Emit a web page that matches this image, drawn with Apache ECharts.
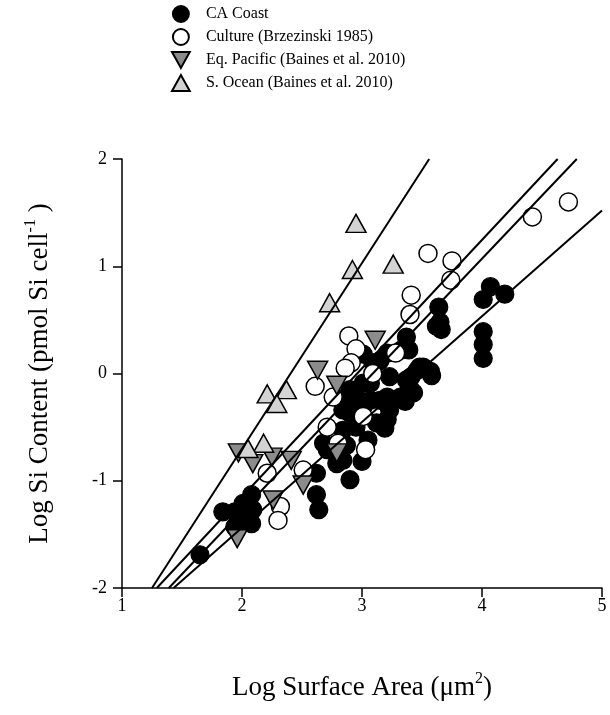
<!DOCTYPE html>
<html>
<head>
<meta charset="utf-8">
<script src="https://cdn.jsdelivr.net/npm/echarts@6/dist/echarts.min.js"></script>
<style>
  html, body { margin: 0; padding: 0; background: #ffffff; }
  #chart { width: 610px; height: 715px; }
</style>
</head>
<body>
<div id="chart"></div>
<script>
// Log surface area (um^2) vs. log Si content (pmol Si per cell)
const seriesNames = ['CA Coast', 'Culture (Brzezinski 1985)', 'Eq. Pacific (Baines et al. 2010)', 'S. Ocean (Baines et al. 2010)'];

const caCoast = [
  [1.65, -1.69], [1.84, -1.29], [1.94, -1.29], [1.94, -1.43], [1.98, -1.37], [2.01, -1.21],
  [2.08, -1.13], [2.09, -1.27], [2.08, -1.40],
  [2.62, -0.93], [2.62, -1.13], [2.64, -1.27], [2.68, -0.65], [2.73, -0.68], [2.71, -0.71],
  [2.79, -0.68], [2.79, -0.84], [2.84, -0.81], [2.84, -0.53], [2.84, -0.34], [2.87, -0.25],
  [2.87, -0.67], [2.90, -0.37], [2.90, -0.99], [2.90, -0.15], [2.95, -0.50], [2.98, -0.25],
  [3.00, -0.82], [3.01, -0.31], [3.01, -0.09], [3.01, 0.18], [3.05, -0.62], [3.07, -0.25],
  [3.07, -0.09], [3.09, 0.10], [3.12, -0.46], [3.15, 0.12], [3.15, -0.25], [3.19, -0.51],
  [3.21, -0.22], [3.21, -0.43], [3.21, 0.19], [3.23, -0.34], [3.23, -0.03], [3.32, -0.22],
  [3.33, 0.22], [3.36, -0.26], [3.37, 0.34], [3.37, -0.06], [3.39, 0.22], [3.40, -0.14],
  [3.41, -0.03], [3.43, -0.18], [3.46, 0.03], [3.48, 0.06], [3.51, 0.06], [3.57, 0.02],
  [3.58, -0.02], [3.62, 0.44], [3.64, 0.62], [3.65, 0.48], [3.66, 0.41],
  [4.01, 0.69], [4.07, 0.81], [4.19, 0.74], [4.01, 0.39], [4.01, 0.27], [4.01, 0.14]
];

const culture = [
  [4.07, 2.01], [4.72, 1.60], [4.42, 1.46], [3.55, 1.12], [3.75, 1.05], [3.74, 0.87],
  [3.41, 0.73], [3.40, 0.55], [2.89, 0.35], [2.95, 0.23], [2.91, 0.10], [2.86, 0.05],
  [2.61, -0.12], [2.76, -0.22], [3.28, 0.19], [3.09, 0.00], [3.01, -0.40], [2.71, -0.50],
  [3.03, -0.71], [2.80, -0.65], [2.51, -0.90], [2.32, -1.24], [2.30, -1.37], [2.21, -0.93]
];

const eqPacific = [
  [3.11, 0.31], [2.63, 0.03], [2.79, -0.11], [2.79, -0.74], [2.41, -0.81], [2.51, -1.04],
  [1.97, -0.74], [2.09, -0.84], [2.25, -0.78], [2.26, -1.18], [1.96, -1.54]
];

const sOcean = [
  [2.95, 1.40], [2.92, 0.97], [2.73, 0.66], [3.26, 1.02], [2.21, -0.19], [2.37, -0.15],
  [2.29, -0.28], [2.18, -0.65], [2.05, -0.70]
];

// Regression lines (end points)
const caCoastFit = [[1.43, -2], [5.0, 1.52]];
const cultureFit = [[1.29, -2], [4.63, 2]];
const eqPacificFit = [[1.39, -2], [4.79, 2]];
const sOceanFit = [[1.25, -2], [3.56, 2]];

const xTicks = [1, 5, 1];   // min, max, step
const yTicks = [-2, 2, 1];

const serif = '"Liberation Serif", "Times New Roman", serif';
const downTri = 'path://M0,0 L20,0 L10,18 Z';
const upTri = 'path://M10,0 L20,18 L0,18 Z';

function fitLine(data) {
  return {
    type: 'line', data: data, symbol: 'none', silent: true, z: 10,
    lineStyle: { color: '#000', width: 2 }
  };
}

const titleRich = {
  n: { fontFamily: serif, fontSize: 27, color: '#000', lineHeight: 34 },
  s: { fontFamily: serif, fontSize: 16, color: '#000', lineHeight: 34, verticalAlign: 'top' }
};

const chart = echarts.init(document.getElementById('chart'), null, { renderer: 'canvas' });
chart.setOption({
  backgroundColor: '#ffffff',
  animation: false,
  textStyle: { fontFamily: serif, color: '#000' },
  grid: { left: 122, right: 8, top: 159, bottom: 127, containLabel: false },
  legend: {
    data: seriesNames,
    orient: 'vertical',
    left: 171, top: 5, padding: 0,
    itemWidth: 18, itemHeight: 16, itemGap: 5,
    textStyle: { fontFamily: serif, fontSize: 16, color: '#000', padding: [0, 0, 0, 11] },
    selectedMode: false
  },
  xAxis: {
    type: 'value', min: xTicks[0], max: xTicks[1], interval: xTicks[2],
    name: '{n|Log Surface Area (\u03bcm}{s|2}{n|)}',
    nameLocation: 'middle', nameGap: 83,
    nameTextStyle: { rich: titleRich },
    axisLine: { show: true, onZero: false, lineStyle: { color: '#000', width: 1.5 } },
    axisTick: { show: true, inside: false, length: 9, lineStyle: { color: '#000', width: 1.5 } },
    axisLabel: { fontFamily: serif, fontSize: 18, color: '#000', margin: 9 },
    splitLine: { show: false }
  },
  yAxis: {
    type: 'value', min: yTicks[0], max: yTicks[1], interval: yTicks[2],
    name: '{n|Log Si Content (pmol Si cell}{s|-1}{n| )}',
    nameLocation: 'middle', nameGap: 65, nameRotate: 90,
    nameTextStyle: { rich: titleRich },
    axisLine: { show: true, onZero: false, lineStyle: { color: '#000', width: 1.5 } },
    axisTick: { show: true, inside: false, length: 9, lineStyle: { color: '#000', width: 1.5 } },
    axisLabel: { fontFamily: serif, fontSize: 18, color: '#000', margin: 15 },
    splitLine: { show: false }
  },
  series: [
    {
      name: seriesNames[0], type: 'scatter', data: caCoast, z: 2,
      symbol: 'circle', symbolSize: 18,
      itemStyle: { color: '#000', borderColor: '#000', borderWidth: 1.2, opacity: 1 }
    },
    {
      name: seriesNames[1], type: 'scatter', data: culture, z: 3,
      symbol: 'circle', symbolSize: 18,
      itemStyle: { color: '#fff', borderColor: '#000', borderWidth: 1.5, opacity: 1 }
    },
    {
      name: seriesNames[2], type: 'scatter', data: eqPacific, z: 4,
      symbol: downTri, symbolSize: [20, 18],
      itemStyle: { color: '#8c8c8c', borderColor: '#000', borderWidth: 1.5, opacity: 1 }
    },
    {
      name: seriesNames[3], type: 'scatter', data: sOcean, z: 5,
      symbol: upTri, symbolSize: [20, 18],
      itemStyle: { color: '#d3d3d3', borderColor: '#000', borderWidth: 1.5, opacity: 1 }
    },
    fitLine(caCoastFit),
    fitLine(cultureFit),
    fitLine(eqPacificFit),
    fitLine(sOceanFit)
  ]
});
</script>
</body>
</html>
